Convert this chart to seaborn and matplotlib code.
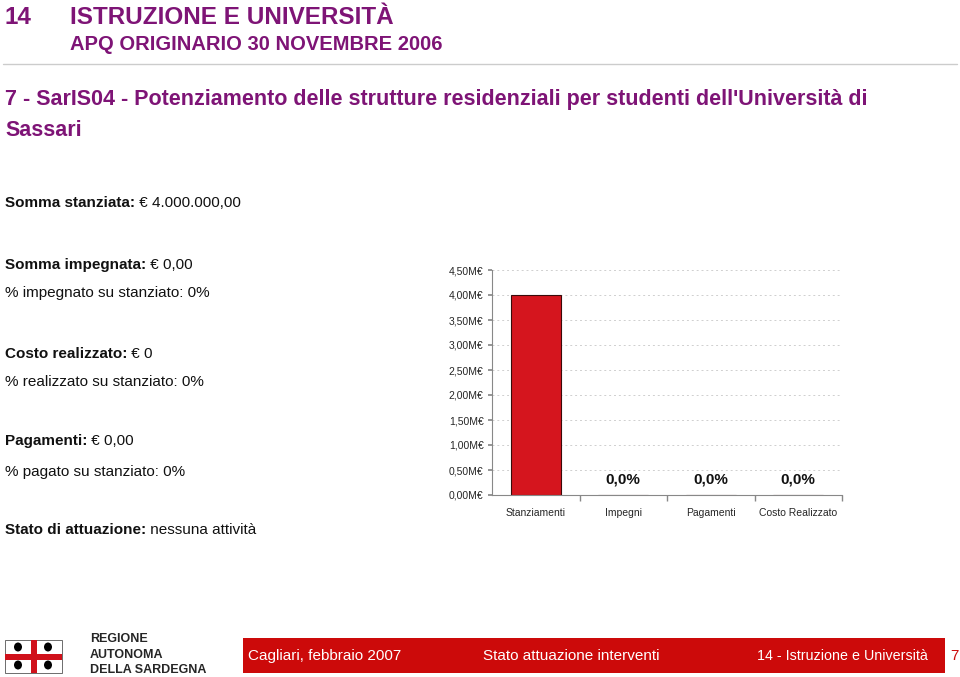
import matplotlib
matplotlib.use("Agg")
import matplotlib.pyplot as plt
import seaborn as sns
import pandas as pd
from matplotlib.patches import Rectangle, Ellipse
from matplotlib.ticker import FuncFormatter, MultipleLocator

categories = ["Stanziamenti", "Impegni", "Pagamenti", "Costo Realizzato"]
values_meur = [4.0, 0.0, 0.0, 0.0]
pct_labels = ["", "0,0%", "0,0%", "0,0%"]

info_lines = [
    ("Somma stanziata:", " € 4.000.000,00"),
    ("Somma impegnata:", " € 0,00"),
    ("", "% impegnato su stanziato: 0%"),
    ("Costo realizzato:", " € 0"),
    ("", "% realizzato su stanziato: 0%"),
    ("Pagamenti:", " € 0,00"),
    ("", "% pagato su stanziato: 0%"),
    ("Stato di attuazione:", " nessuna attività"),
]
info_y = [203, 265, 293, 354, 382, 441, 472, 530]

PURPLE = "#7E1476"
RED = "#D5151E"

sns.set_theme(style="white")
plt.rcParams['font.family'] = ['Liberation Sans', 'DejaVu Sans']

W, H = 960, 677
fig = plt.figure(figsize=(9.6, 6.77), dpi=100)

def fx(x): return x / W
def fy(y): return 1 - y / H

# header
fig.text(fx(5), fy(18), "14", color=PURPLE, fontsize=17.5, fontweight="bold", va="center", ha="left")
fig.text(fx(70), fy(18), "ISTRUZIONE E UNIVERSITÀ", color=PURPLE, fontsize=17.5, fontweight="bold", va="center", ha="left")
fig.text(fx(70), fy(45), "APQ ORIGINARIO 30 NOVEMBRE 2006", color=PURPLE, fontsize=14.5, fontweight="bold", va="center", ha="left")
fig.add_artist(plt.Line2D([fx(3), fx(957)], [fy(64), fy(64)], color="#cccccc", lw=1))
fig.text(fx(5), fy(99), "7 - SarIS04 - Potenziamento delle strutture residenziali per studenti dell'Università di",
         color=PURPLE, fontsize=15.5, fontweight="bold", va="center", ha="left")
fig.text(fx(5), fy(130), "Sassari", color=PURPLE, fontsize=15.5, fontweight="bold", va="center", ha="left")

# info text
fig.canvas.draw()
for (b, n), y in zip(info_lines, info_y):
    if b:
        t = fig.text(fx(5), fy(y), b, fontsize=11, fontweight="bold", va="center", ha="left", color="#111111")
        bb = t.get_window_extent(renderer=fig.canvas.get_renderer())
        x2 = bb.x1 / (fig.dpi * 9.6)
    else:
        x2 = fx(5)
    fig.text(x2, fy(y), n, fontsize=11, va="center", ha="left", color="#111111")

# chart
ax = fig.add_axes([fx(492), fy(495), fx(842) - fx(492), fy(270) - fy(495)])
df = pd.DataFrame({"cat": categories, "val": values_meur})
sns.barplot(data=df, x="cat", y="val", ax=ax, color=RED, saturation=1, width=0.57,
            edgecolor="#3a0a0a", linewidth=0.8)
ax.set_ylim(0, 4.5)
ax.set_xlim(-0.5, 3.5)
ax.yaxis.set_major_locator(MultipleLocator(0.5))
ax.yaxis.set_major_formatter(FuncFormatter(lambda v, p: f"{v:.2f}".replace(".", ",") + "M€"))
ax.set_xlabel("")
ax.set_ylabel("")
ax.grid(axis="y", color="#cfcfcf", linestyle=(0, (2, 3)), lw=0.7)
ax.set_axisbelow(True)
for s in ["top", "right"]:
    ax.spines[s].set_visible(False)
for s in ["left", "bottom"]:
    ax.spines[s].set_color("#888888")
    ax.spines[s].set_linewidth(0.8)
ax.tick_params(axis="y", labelsize=7.5, length=3, color="#888888", left=True, pad=3)
ax.tick_params(axis="x", labelsize=7.5, length=0, pad=9)
ax.set_xticks([0, 1, 2, 3])
ax.set_xticks([0.5, 1.5, 2.5, 3.5], minor=True)
ax.tick_params(axis="x", which="minor", length=4, color="#888888", bottom=True)
for i, lab in enumerate(pct_labels):
    if lab:
        ax.text(i, 0.3, lab, ha="center", va="center", fontsize=11, fontweight="bold", color="#111111")

# footer logo (Sardinia flag)
lx0, ly0, lw_, lh_ = 5, 640, 57, 33
fig.add_artist(Rectangle((fx(lx0), fy(ly0 + lh_)), fx(lw_), lh_ / H, facecolor="white", edgecolor="#555555", lw=0.6))
fig.add_artist(Rectangle((fx(lx0 + lw_ / 2 - 3), fy(ly0 + lh_)), fx(6), lh_ / H, facecolor="#D0111B", lw=0))
fig.add_artist(Rectangle((fx(lx0), fy(ly0 + lh_ / 2 + 3)), fx(lw_), 6 / H, facecolor="#D0111B", lw=0))
for cx in (lx0 + 13, lx0 + 43):
    for cy in (ly0 + 7, ly0 + 25):
        fig.add_artist(Ellipse((fx(cx), fy(cy)), fx(8), 9 / H, facecolor="black", lw=0))
fig.text(fx(90), fy(639), "REGIONE", fontsize=9, fontweight="bold", va="center", ha="left")
fig.text(fx(90), fy(655), "AUTONOMA", fontsize=9, fontweight="bold", va="center", ha="left")
fig.text(fx(90), fy(670), "DELLA SARDEGNA", fontsize=9, fontweight="bold", va="center", ha="left")

fig.add_artist(Rectangle((fx(243), fy(673)), fx(945 - 243), 35 / H, facecolor="#CC0A0A", lw=0))
fig.text(fx(248), fy(656), "Cagliari, febbraio 2007", color="white", fontsize=11, va="center", ha="left")
fig.text(fx(483), fy(656), "Stato attuazione interventi", color="white", fontsize=11, va="center", ha="left")
fig.text(fx(757), fy(656), "14 - Istruzione e Università", color="white", fontsize=10.3, va="center", ha="left")
fig.text(fx(950), fy(656), "7", color="#CC0A0A", fontsize=11, va="center", ha="left")

fig.savefig("out.png", dpi=100)
